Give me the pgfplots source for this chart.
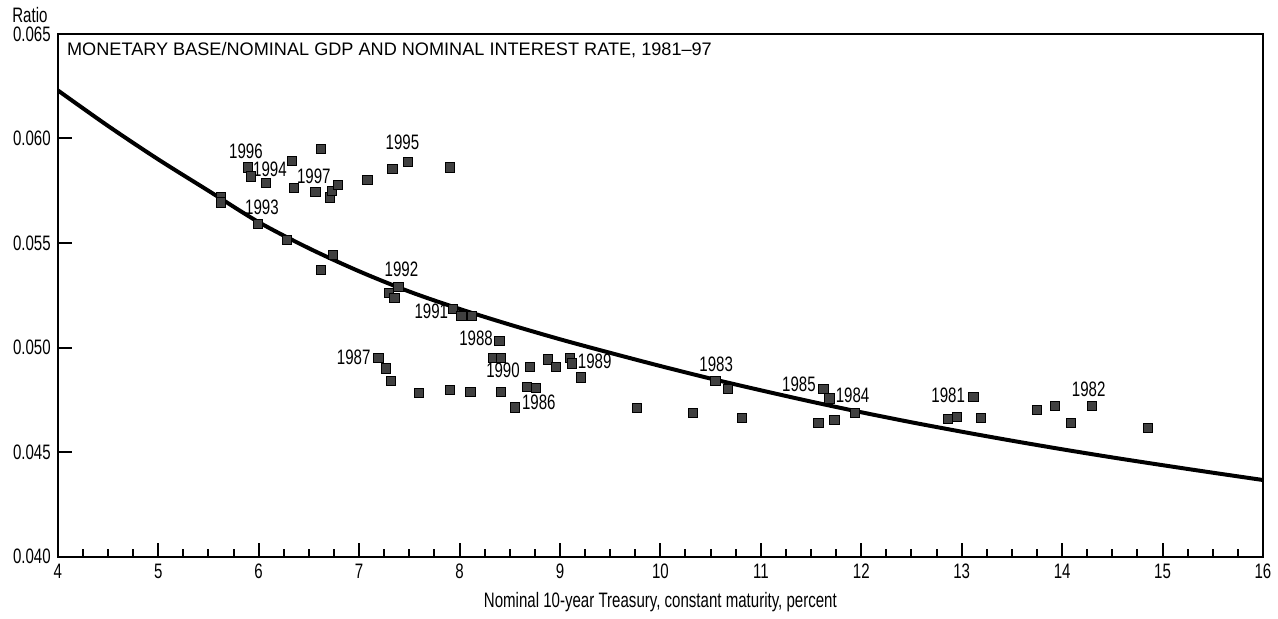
\documentclass[border=0pt]{standalone}
\usepackage{fontspec}
\setmainfont{Liberation Sans}
\newfontfamily\cond{Liberation Sans}[FakeStretch=0.72]
\usepackage{pgfplots}
\pgfplotsset{compat=1.18}
\newcommand{\lblfont}{\cond\fontsize{10.5}{12}\selectfont}
\pgfplotstableread{
x y
5.624 0.05718
5.624 0.05694
5.897 0.05861
5.921 0.05818
5.996 0.05590
6.070 0.05786
6.284 0.05516
6.328 0.05892
6.350 0.05765
6.566 0.05744
6.621 0.05371
6.625 0.05948
6.714 0.05718
6.730 0.05749
6.787 0.05778
6.740 0.05444
7.084 0.05801
7.332 0.05852
7.484 0.05887
7.904 0.05861
7.392 0.05289
7.300 0.05262
7.352 0.05237
7.937 0.05186
8.020 0.05151
8.126 0.05151
8.398 0.05033
8.334 0.04952
8.413 0.04952
7.193 0.04952
7.266 0.04900
7.315 0.04840
7.600 0.04784
7.904 0.04797
8.109 0.04786
8.416 0.04789
8.555 0.04714
8.698 0.04908
8.674 0.04813
8.763 0.04808
8.879 0.04943
8.962 0.04908
9.104 0.04951
9.121 0.04924
9.210 0.04857
9.765 0.04710
10.327 0.04686
10.549 0.04840
10.671 0.04801
10.813 0.04665
11.624 0.04801
11.683 0.04757
11.937 0.04686
11.574 0.04638
11.733 0.04654
13.117 0.04765
12.863 0.04657
12.956 0.04668
13.194 0.04662
13.746 0.04701
13.931 0.04722
14.086 0.04638
14.295 0.04722
14.853 0.04614
}\pts
\pgfplotstableread{
x y
4.0 0.06230
4.5 0.06060
5.0 0.05900
5.5 0.05750
6.0 0.05600
6.5 0.05475
7.0 0.05365
7.5 0.05268
8.0 0.05185
8.5 0.05110
9.0 0.05040
9.5 0.04975
10.0 0.04912
10.5 0.04852
11.0 0.04796
11.5 0.04742
12.0 0.04691
12.5 0.04643
13.0 0.04598
13.5 0.04555
14.0 0.04514
14.5 0.04475
15.0 0.04438
15.5 0.04402
16.0 0.04367
}\fit
\begin{document}
\begin{tikzpicture}
\begin{axis}[
  scale only axis, width=605pt, height=262.5pt,
  xmin=4, xmax=16, ymin=0.040, ymax=0.065,
  xtick={4,5,6,7,8,9,10,11,12,13,14,15,16},
  xticklabels={4,5,6,7,8,9,10,11,12,13,14,15,16},
  minor x tick num=3,
  ytick={0.040,0.045,0.050,0.055,0.060,0.065},
  yticklabels={0.040,0.045,0.050,0.055,0.060,0.065},
  scaled y ticks=false, scaled x ticks=false,
  xtick pos=left, ytick pos=left,
  tick align=inside,
  major tick length=7pt, minor tick length=4pt,
  every tick/.style={black, line width=1pt},
  axis line style={line width=1.2pt},
  tick label style={font=\lblfont},
  xlabel={Nominal 10-year Treasury, constant maturity, percent},
  xlabel style={font=\lblfont},
]
\addplot[black, line width=2pt, smooth, no marks] table[x=x,y=y] {\fit};
\addplot[only marks, mark=square*, mark size=2.3pt, mark options={fill=black!75, draw=black, line width=0.5pt}] table[x=x,y=y] {\pts};
\begin{scope}[every node/.style={font=\lblfont, inner sep=0pt}]
\node at (axis cs:5.874,0.05938) {1996};
\node at (axis cs:6.112,0.05852) {1994};
\node at (axis cs:6.549,0.05819) {1997};
\node at (axis cs:6.033,0.05671) {1993};
\node at (axis cs:7.432,0.05981) {1995};
\node at (axis cs:7.422,0.05376) {1992};
\node at (axis cs:7.719,0.05176) {1991};
\node at (axis cs:8.165,0.05043) {1988};
\node at (axis cs:6.946,0.04952) {1987};
\node at (axis cs:8.433,0.04891) {1990};
\node at (axis cs:8.790,0.04738) {1986};
\node at (axis cs:9.346,0.04933) {1989};
\node at (axis cs:10.556,0.04919) {1983};
\node at (axis cs:11.379,0.04824) {1985};
\node at (axis cs:11.914,0.04771) {1984};
\node at (axis cs:12.866,0.04771) {1981};
\node at (axis cs:14.265,0.04800) {1982};
\end{scope}
\end{axis}
\node[anchor=west, inner sep=0pt, font=\fontsize{9.1}{11}\selectfont] at ([xshift=4.5pt,yshift=-8pt]current axis.north west) {MONETARY BASE/NOMINAL GDP AND NOMINAL INTEREST RATE, 1981–97};
\node[anchor=west, inner sep=0pt, font=\lblfont] at ([xshift=-23pt,yshift=9.25pt]current axis.north west) {Ratio};
\path ([xshift=-29pt,yshift=-27.5pt]current axis.south west) rectangle ([xshift=5pt,yshift=17pt]current axis.north east);
\end{tikzpicture}
\end{document}
